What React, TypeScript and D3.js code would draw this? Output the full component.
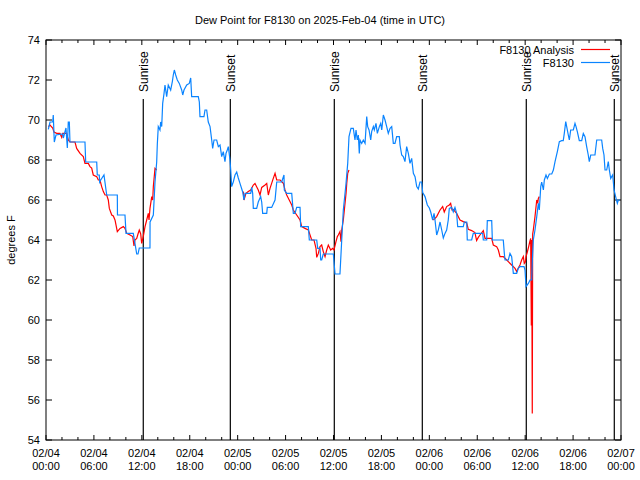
import React from "react";
import * as d3 from "d3";

// hours since 02/04 00:00 UTC, dew point °F
const obsHours = [0.29,0.5,0.84,0.91,1.04,1.25,2.09,2.17,2.5,2.67,2.79,2.92,3.0,4.88,4.97,6.35,6.42,6.67,6.72,6.85,7.26,7.6,8.93,8.95,9.89,10.02,10.93,11.14,11.36,11.52,11.68,13.02,13.03,13.44,13.65,13.86,13.94,14.06,14.27,14.36,14.49,14.61,14.78,14.9,15.11,15.31,15.61,15.82,15.94,16.07,16.24,16.44,16.69,16.99,17.12,17.28,17.62,17.94,18.12,18.24,19.07,19.2,19.28,19.78,19.91,20.12,20.32,20.54,20.75,20.87,21.04,21.37,21.58,21.79,22.0,22.2,22.41,22.54,22.7,22.83,23.04,23.13,23.25,23.45,23.67,23.88,24.08,24.29,24.63,24.79,24.92,25.63,25.76,25.88,25.96,26.38,26.58,26.88,27.01,27.13,27.64,27.71,28.26,28.68,28.89,29.51,29.8,29.84,30.14,30.77,30.97,31.18,31.39,31.81,31.89,32.85,32.97,33.9,34.02,34.31,34.4,34.52,34.72,35.98,36.19,36.81,37.03,37.23,37.57,37.78,37.86,37.94,38.19,38.48,38.69,38.82,38.98,39.11,39.23,39.32,39.53,39.73,39.95,40.16,40.28,40.45,40.66,40.78,40.99,41.11,41.32,41.49,41.74,41.91,42.04,42.24,42.45,42.66,42.86,43.08,43.29,43.49,43.7,43.91,44.24,44.33,44.54,44.74,44.95,45.16,45.37,45.58,45.79,46.0,46.21,46.42,46.62,46.83,47.04,47.17,47.46,47.75,48.0,48.17,48.42,48.59,48.71,48.92,49.12,49.34,49.55,49.75,49.96,50.17,50.37,50.5,50.8,51.0,51.21,51.42,51.55,52.25,52.38,52.68,52.75,53.3,53.5,54.68,54.76,55.18,55.26,55.81,55.89,57.26,57.39,57.48,57.89,58.1,58.31,58.52,58.94,59.14,59.35,59.86,59.98,60.11,60.4,60.61,60.82,60.9,61.02,61.23,61.45,61.65,61.77,61.95,62.07,62.28,62.4,62.61,62.78,63.03,63.33,63.53,63.74,64.03,64.28,64.57,64.77,64.9,65.08,65.2,65.4,65.53,65.7,66.03,66.24,66.37,66.53,66.78,67.08,67.28,67.49,67.7,67.9,68.03,68.21,68.74,68.96,69.58,69.71,69.87,70.0,70.21,70.41,70.54,70.71,70.96,71.13,71.38,71.54,71.67,71.88];
const obsValues = [69.53,69.9,69.9,70.25,68.9,69.25,69.3,69.1,69.6,68.6,69.9,69.9,68.9,68.9,67.9,67.9,67.25,67.25,66.9,67.0,67.25,66.25,66.25,65.25,65.25,64.33,64.33,63.83,63.3,63.3,63.6,63.6,64.9,65.25,66.9,67.9,68.8,69.67,69.5,69.9,69.67,70.83,71.33,71.75,71.17,71.75,71.5,71.92,72.25,72.5,72.25,72.0,71.83,71.5,71.25,71.5,71.75,71.83,72.1,71.17,71.17,70.9,70.17,70.17,70.5,70.5,69.9,69.67,69.0,68.58,69.0,69.0,68.67,68.75,68.17,68.42,67.92,68.33,68.5,68.67,68.0,67.5,66.67,66.9,67.25,67.4,67.1,66.83,66.4,66.0,66.33,66.33,66.63,66.33,65.58,65.58,65.9,66.17,65.9,65.33,65.33,65.63,65.63,66.0,66.9,66.9,67.25,66.5,66.33,66.33,65.33,65.33,65.63,65.63,64.67,64.67,64.0,64.0,63.58,63.58,63.0,63.0,63.3,63.3,62.3,62.3,64.0,65.5,66.83,67.83,68.5,69.17,69.58,69.58,69.0,69.5,69.0,69.25,68.33,69.0,68.83,69.0,68.83,70.17,69.67,69.5,69.0,69.42,69.67,69.5,69.83,69.33,69.67,69.83,69.5,70.25,70.0,69.67,69.33,69.58,69.67,68.83,68.83,69.17,69.17,68.75,68.25,68.17,67.92,68.67,68.33,67.83,68.08,67.33,67.17,66.67,66.55,66.9,66.9,66.37,66.17,65.75,65.6,65.4,65.0,65.33,65.0,64.25,64.5,64.9,64.5,64.1,64.33,64.5,65.0,65.58,65.63,65.4,65.63,65.33,64.67,64.67,64.9,64.9,64.0,64.0,64.33,64.33,64.0,64.0,64.97,64.97,64.0,64.0,63.33,63.0,63.0,63.33,63.17,62.33,62.33,62.58,62.67,62.67,62.5,61.67,61.83,62.0,62.0,63.0,64.0,64.5,65.17,65.83,65.5,66.67,66.9,66.5,67.0,67.25,67.08,67.3,67.3,67.5,67.92,68.42,68.92,68.97,68.97,69.33,69.92,69.67,69.25,69.0,69.5,69.5,69.83,69.67,69.42,68.97,68.97,69.33,69.17,68.67,68.25,67.92,68.25,68.25,69.0,69.0,68.58,68.25,67.5,67.5,67.92,67.5,67.08,67.25,66.5,66.08,65.83,66.0,66.0];

const anaSegments = [
  {
    hours: [0.29,0.5,0.84,1.0,1.34,1.75,1.97,2.09,2.38,2.59,2.79,3.0,3.63,3.84,4.26,4.67,4.88,5.3,5.51,5.72,5.92,6.35,6.55,6.76,6.97,7.18,7.39,7.6,7.8,7.93,8.23,8.43,8.64,8.93,9.27,9.68,9.89,10.11,10.52,10.86,11.02,11.14,11.36,11.52,11.68,11.86,11.98,12.18,12.4,12.61,12.81,12.9,13.02,13.24,13.36,13.44,13.65,13.86],
    values: [69.67,69.75,69.6,69.4,69.33,69.33,69.13,69.33,69.33,69.33,69.0,68.9,68.9,68.58,68.33,68.17,67.83,67.83,67.67,67.6,67.25,67.17,67.0,67.0,66.67,66.42,66.25,66.25,66.0,65.58,65.25,65.2,65.0,64.42,64.58,64.67,64.58,64.33,64.25,64.17,63.7,64.0,64.08,64.3,64.5,64.3,63.83,64.17,64.67,65.0,65.33,65.0,65.58,66.17,66.0,66.67,67.58,67.5],
  },
  {
    hours: [24.71,24.79,25.04,25.33,25.63,25.96,26.17,26.58,26.8,27.01,27.43,27.64,27.84,28.05,28.46,28.68,28.89,29.31,29.72,29.93,30.14,30.55,30.77,30.97,31.39,31.81,32.02,32.43,32.85,33.27,33.56,33.81,33.9,34.1,34.31,34.52,34.72,34.94,35.15,35.35,35.65,35.9,36.06,36.31,36.48,36.6,36.81,36.94,37.03,37.23,37.36,37.57,37.66,37.78,37.94],
    values: [66.42,66.0,66.33,66.42,66.5,66.75,66.83,66.5,66.25,66.63,66.75,66.83,66.25,66.58,67.08,67.33,67.0,67.0,66.83,66.5,66.25,65.92,65.75,65.5,65.25,65.0,64.67,64.58,64.5,64.0,64.0,63.58,63.13,63.33,63.67,63.75,63.42,63.17,63.5,63.75,63.5,63.58,63.5,63.92,64.17,64.25,64.42,63.92,64.5,65.0,65.5,66.33,66.83,67.33,67.5],
  },
  {
    hours: [48.5,48.92,49.34,49.67,49.87,50.17,50.5,50.67,50.84,51.0,51.42,51.84,52.25,52.68,52.88,53.3,53.71,53.92,54.13,54.34,54.76,54.97,55.81,56.01,56.43,56.64,56.85,57.26,57.69,57.89,58.31,58.73,58.94,59.14,59.35,59.56,59.77,59.89,60.02,60.11,60.27,60.44,60.57,60.69,60.77,60.8,60.82,60.89,60.94,61.02,61.23,61.45,61.57,61.65,61.77],
    values: [65.0,65.17,65.5,65.67,65.4,65.67,65.75,65.83,65.5,65.53,65.33,65.0,64.92,64.85,64.53,64.47,64.37,63.97,64.13,64.25,64.47,64.08,64.08,63.75,63.67,63.5,63.17,63.17,63.0,62.92,62.75,62.58,62.42,62.6,62.75,63.0,63.17,62.83,62.9,63.17,63.4,63.67,63.9,64.08,59.75,59.75,64.0,55.33,64.3,64.5,65.17,66.0,65.83,66.08,66.17],
  },
];

const sunriseHours = [12.18, 36.1, 60.14];
const sunsetHours = [23.08, 47.12, 71.16];
const xTickHours = [0, 6, 12, 18, 24, 30, 36, 42, 48, 54, 60, 66, 72];
const xTickDays = ["02/04","02/04","02/04","02/04","02/05","02/05","02/05","02/05","02/06","02/06","02/06","02/06","02/07"];
const xTickTimes = ["00:00","06:00","12:00","18:00","00:00","06:00","12:00","18:00","00:00","06:00","12:00","18:00","00:00"];
const yTicks = [54, 56, 58, 60, 62, 64, 66, 68, 70, 72, 74];

const L = 46, R = 621, T = 40, B = 440;
const FONT = "'Liberation Sans', Arial, sans-serif";
const RED = "#ff0000";
const BLUE = "#0a84ff";

export default function App() {
  const x = d3.scaleLinear().domain([0, 72]).range([L, R]);
  const y = d3.scaleLinear().domain([54, 74]).range([B, T]);
  const line = d3.line<[number, number]>().x((d) => x(d[0])).y((d) => y(d[1]));
  const obs: [number, number][] = obsHours.map((h, i) => [h, obsValues[i]]);
  const minor = d3.range(0, 73, 2).filter((h) => h % 6 !== 0);

  return (
    <svg width={640} height={480} style={{ position: "absolute", left: 0, top: 0, background: "#fff" }} fontFamily={FONT} fontSize={11}>
      <rect x={0} y={0} width={640} height={480} fill="#fff" />
      <text x={320} y={24} textAnchor="middle">Dew Point for F8130 on 2025-Feb-04 (time in UTC)</text>
      <text transform={`translate(15,240) rotate(-90)`} textAnchor="middle">degrees F</text>

      {yTicks.map((v) => (
        <g key={"y" + v}>
          <line x1={L} x2={L + 6} y1={y(v)} y2={y(v)} stroke="#000" />
          <line x1={R} x2={R - 6} y1={y(v)} y2={y(v)} stroke="#000" />
          <text x={40} y={y(v) + 4} textAnchor="end">{v}</text>
        </g>
      ))}
      {xTickHours.map((h, i) => (
        <g key={"x" + h}>
          <line x1={x(h)} x2={x(h)} y1={B} y2={B - 5} stroke="#000" />
          <line x1={x(h)} x2={x(h)} y1={T} y2={T + 5} stroke="#000" />
          <text x={x(h)} y={457} textAnchor="middle">{xTickDays[i]}</text>
          <text x={x(h)} y={470} textAnchor="middle">{xTickTimes[i]}</text>
        </g>
      ))}
      {minor.map((h) => (
        <g key={"m" + h}>
          <line x1={x(h)} x2={x(h)} y1={B} y2={B - 3} stroke="#000" />
          <line x1={x(h)} x2={x(h)} y1={T} y2={T + 3} stroke="#000" />
        </g>
      ))}

      {sunriseHours.map((h) => (
        <g key={"sr" + h}>
          <line x1={x(h)} x2={x(h)} y1={99} y2={B} stroke="#000" strokeWidth={1.2} />
          <text transform={`translate(${x(h) + 4.5},92) rotate(-90)`} textAnchor="start" fontSize={12}>Sunrise</text>
        </g>
      ))}
      {sunsetHours.map((h) => (
        <g key={"ss" + h}>
          <line x1={x(h)} x2={x(h)} y1={99} y2={B} stroke="#000" strokeWidth={1.2} />
          <text transform={`translate(${x(h) + 4.5},92) rotate(-90)`} textAnchor="start" fontSize={12}>Sunset</text>
        </g>
      ))}

      {anaSegments.map((s, i) => (
        <path key={"a" + i} d={line(s.hours.map((h, j) => [h, s.values[j]] as [number, number])) || ""} fill="none" stroke={RED} strokeWidth={1.2} />
      ))}
      <path d={line(obs) || ""} fill="none" stroke={BLUE} strokeWidth={1.2} />

      <rect x={L} y={T} width={R - L} height={B - T} fill="none" stroke="#000" />

      <text x={574} y={54} textAnchor="end">F8130 Analysis</text>
      <line x1={581} x2={610} y1={49.5} y2={49.5} stroke={RED} strokeWidth={1.2} />
      <text x={574} y={67} textAnchor="end">F8130</text>
      <line x1={581} x2={610} y1={62.5} y2={62.5} stroke={BLUE} strokeWidth={1.2} />
    </svg>
  );
}
